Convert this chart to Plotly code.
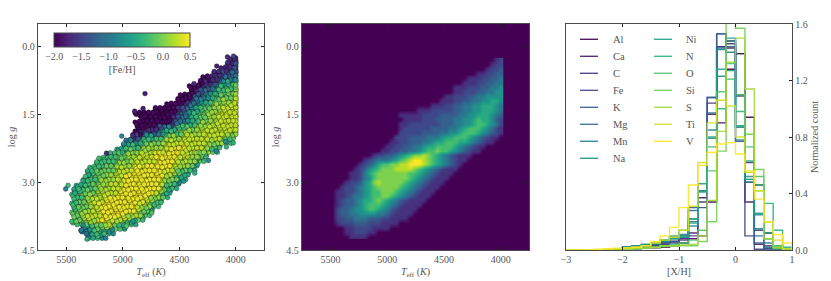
import plotly.graph_objects as go
from plotly.colors import sample_colorscale

FONT = "Liberation Serif"
INK = "#555555"
FRAME = "#4a4a4a"

# ---- left panel: Teff / log g raster, one letter per cell
logg_rows = [0.3,0.4,0.5,0.6,0.7,0.8,0.9,1.0,1.1,1.2,1.3,1.4,1.5,1.6,1.7,1.8,1.9,2.0,2.1,2.2,2.3,2.4,2.5,2.6,2.7,2.8,2.9,3.0,3.1,3.2,3.3,3.4,3.5,3.6,3.7,3.8,3.9,4.0,4.1,4.2]
teff_start = [4040,4080,4120,4200,4280,4320,4400,4400,4480,4520,4600,4720,4880,4840,4880,4880,4880,4920,4960,5000,5040,5120,5200,5240,5280,5320,5320,5360,5400,5440,5440,5440,5440,5440,5440,5440,5440,5360,5360,5320]
feh_rows = ["bb","bbc","bbcc","bbccdd","abbcddef","abbcdefgg","aabcdefgghh","abcdefgghhi","aabcdefgghhii","aabcdefghhiiij","aaabcdefghhiiijj","aaaaabcdefghhiijjjj",
"aaaaaaaabcdefghhiijjjjj","aaaaaaabcdefghhiijjjjj","aaaaaaabcdefgghiiijjjjj","aaabbcdefgghhiiijjjjjjj","abbcdefgghhiiijjjjjjjji","bcdefgghhiiijjjjjjjjiih",
"defgghhiiijjjjjjjjjiihg","efgghhiiijjjkkjjjjiihg","fgghhiiijjjkkkkjjjiihg","gghhiiijjjkkkkkkjjiihg","ggghhhiijjjjkkkkkjjiihg","gghhhiiijjjkkkkkkjjiihf",
"gghhhiijjjkkkkkkkjjihgf","fghhiiijjkkkkkkkkjjihgf","gghhiijjjkkkkkkkkjihgf","fghhiijjjkkkkkkkkjihge","fgghhiijjjkkkkkkkkjhgf","fgghhiijjjkkkkkkkkjihf",
"gghhiijjjkkkkkkkkjihf","ghhijjjkkkkkkkkkjihg","ghhijjkkkkkkkkkjihg","ghhijjkkkkkkkkjihf","hhijjjkkkkkkjjihg","hhijjjkkkkjjiihg","ghhiijjjjiihgf","efghhiihgf","defggfe","efge"]
feh_levels = dict(a=-1.95,b=-1.7,c=-1.4,d=-1.1,e=-0.8,f=-0.5,g=-0.3,h=-0.1,i=0.1,j=0.25,k=0.42)
# sub-cell positions used for each raster cell: (Teff offset, log g offset)
cell_teff_offsets = [0,-17,11,-9]
cell_logg_offsets = [0.0,0.04,-0.03,-0.05]
outlier_teff = [4803,5009,5144,5484,5505,4370,4168,4074,4020,4242,4174,4083,4022,4090,4363,4460,4661,4743,4909,4967,5150,5316,5366,4894,4820]
outlier_logg = [1.04,1.98,2.36,3.07,3.15,0.82,0.43,0.23,0.21,2.52,2.31,2.22,2.13,2.10,2.80,2.98,3.45,3.68,3.86,3.97,4.24,4.26,4.06,1.43,1.37]
outlier_feh = [-1.8,-0.9,-1.7,-0.3,-0.9,-1.7,-1.8,-1.7,-1.5,-0.8,-0.9,-0.4,-0.4,-0.8,-0.4,-0.7,-0.3,-0.2,-0.7,-0.2,-0.9,-0.4,-1.0,-1.8,-1.8]

# ---- middle panel: density digits on the same rows
density_rows = ["12","122","1223","112233","11122334","111223344","11122233445","11222334455","1122233445555","11122334455665","1112233445566654","1112222233445566654",
"11111222233334455666543","1111222333344556766532","11222222233344556776542","12222223333445677765421","22222333344556777654321","22233334445667776543211",
"11223334456677766543211","1122334456677776543211","1122334456778776543211","1223345678898765432111","12344456789aa9876543211","12346778899aaa987654321",
"12356788899998765432111","11246788888887765432111","1124578888888765432111","1223568988888765432111","1223456788888765432111","1122345677888765432111",
"112344567788765432111","12334566787654321111","1233456777654321111","233455677654321111","23344555544321111","2233444333221111","12223332221111","1122221111","1122211","1111"]
density_levels = {"1":.14,"2":.22,"3":.3,"4":.4,"5":.5,"6":.6,"7":.7,"8":.8,"9":.9,"a":1.0}

# ---- right panel: normalized histograms, 24 bins from -3 to 1
elements = ["Al","Ca","C","Fe","K","Mg","Mn","Na","Ni","N","O","Si","S","Ti","V"]
hist = {
"Al":[0,0,0,0,0,.002,.005,.008,.012,.015,.02,.03,.05,.08,.10,.34,.90,1.28,1.39,.94,.46,.12,.01,0],
"Ca":[0,0,0,0,.002,.004,.01,.015,.02,.03,.04,.06,.08,.12,.37,.96,1.44,1.43,1.39,.34,.04,.01,0,0],
"C":[0,0,0,0,.002,.005,.01,.015,.02,.03,.05,.06,.07,.10,.34,1.04,1.44,1.46,1.10,.62,.14,.03,0,0],
"Fe":[0,0,0,0,.003,.01,.02,.02,.025,.03,.04,.05,.05,.22,.30,1.08,1.53,1.48,1.09,.10,.005,0,0,0],
"K":[0,0,0,0,.002,.008,.015,.02,.03,.04,.05,.06,.09,.30,.47,1.08,1.53,1.44,.77,.48,.05,.01,0,0],
"Mg":[0,0,0,0,.003,.01,.02,.025,.03,.04,.06,.08,.10,.28,.42,.97,1.43,1.48,.87,.48,.10,.02,0,0],
"Mn":[0,0,0,0,.002,.01,.02,.03,.04,.05,.06,.09,.11,.20,.42,.85,1.42,1.40,.78,.50,.15,.05,.01,0],
"Na":[0,0,0,0,.002,.008,.02,.03,.04,.05,.07,.09,.10,.17,.42,.79,1.23,1.50,.87,.52,.25,.08,.02,0],
"Ni":[0,0,0,0,.002,.006,.015,.02,.035,.05,.07,.08,.09,.19,.41,.80,1.28,1.27,.88,.50,.26,.12,.03,.01],
"N":[0,0,0,0,.002,.005,.01,.02,.03,.05,.07,.10,.14,.22,.47,.73,1.00,1.21,.98,.63,.46,.33,.14,.02],
"O":[0,0,0,0,0,.002,.005,.01,.015,.02,.03,.04,.05,.07,.14,.56,1.12,1.32,1.10,.73,.52,.20,.03,.01],
"Si":[0,0,0,0,0,.002,.004,.008,.012,.018,.025,.03,.03,.03,.06,.20,.70,1.62,1.57,.82,.57,.08,.01,0],
"S":[0,0,0,0,0,.002,.005,.01,.015,.02,.03,.03,.035,.04,.10,.35,.84,1.33,1.50,1.14,.42,.08,.02,0],
"Ti":[0,0,.001,.002,.004,.01,.015,.02,.03,.05,.07,.09,.14,.31,.62,.90,1.06,1.02,.80,.55,.42,.20,.07,.01],
"V":[0,0,.002,.005,.01,.012,.015,.02,.03,.06,.10,.16,.30,.46,.60,.69,.75,.76,.68,.56,.36,.20,.11,.05],
}
bin_edges = [-3+i/6 for i in range(25)]

teff_ticks = [5500,5000,4500,4000]
logg_ticks = [0.0,1.5,3.0,4.5]
count_ticks = [0.0,0.4,0.8,1.2,1.6]
xh_ticks = [-3,-2,-1,0,1]

W, H = 831, 281
TEFF_STEP = 40

def dx(a,b): return [a/W, b/W]
def dy(a,b): return [1-b/H, 1-a/H]

fig = go.Figure()

cells = []
for pass_i,(dt,dg) in enumerate(zip(cell_teff_offsets, cell_logg_offsets)):
    for i,(g,t0,row) in enumerate(zip(logg_rows, teff_start, feh_rows)):
        shift = 20 if (i+pass_i) % 2 else 0
        for j,ch in enumerate(row):
            order = (i*7 + j*11 + pass_i*3) % 9
            cells.append((order, max(t0 - j*TEFF_STEP - shift + dt, 4000), g + dg, feh_levels[ch]))
cells.sort(key=lambda c: c[0])
sx = [c[1] for c in cells] + outlier_teff
sy = [c[2] for c in cells] + outlier_logg
sv = [c[3] for c in cells] + outlier_feh
fig.add_trace(go.Scatter(x=sx, y=sy, mode="markers", xaxis="x", yaxis="y", showlegend=False,
    marker=dict(size=4.8, color=sv, colorscale="Viridis", cmin=-2, cmax=0.5,
        line=dict(color="rgba(0,0,0,0.65)", width=0.45),
        colorbar=dict(orientation="h", lenmode="pixels", len=136, thicknessmode="pixels", thickness=14,
            x=122.2/W, xanchor="center", y=1-32.7/H, yanchor="top", ypad=0, xpad=0,
            tickvals=[-2,-1.5,-1,-.5,0,.5], ticktext=["−2.0","−1.5","−1.0","−0.5","0.0","0.5"],
            ticks="", outlinecolor=FRAME, outlinewidth=1,
            tickfont=dict(family=FONT,size=10,color=INK),
            title=dict(text="[Fe/H]", side="bottom", font=dict(family=FONT,size=10,color=INK))))))

grid_teff = [5560 - k*TEFF_STEP for k in range(40)]
grid_z = []
for t0,row in zip(teff_start, density_rows):
    line = [0.0]*len(grid_teff)
    k0 = round((5560-t0)/TEFF_STEP)
    for j,ch in enumerate(row):
        if k0+j < len(line):
            line[k0+j] = density_levels[ch]
    grid_z.append(line)
fig.add_trace(go.Heatmap(x=grid_teff, y=logg_rows, z=grid_z, xaxis="x2", yaxis="y2", zsmooth="best",
    colorscale="Viridis", zmin=0, zmax=1, showscale=False, hoverinfo="skip"))

colors = sample_colorscale("Viridis", [i/14 for i in range(15)])
for name,c in zip(elements, colors):
    x = [bin_edges[0]] + bin_edges
    y = [0] + hist[name] + [0]
    fig.add_trace(go.Scatter(x=x, y=y, mode="lines", xaxis="x3", yaxis="y3", showlegend=False,
        line=dict(color=c, width=1.4, shape="hv"), opacity=0.9))

common = dict(showline=True, linecolor=FRAME, linewidth=1.3, showgrid=False, zeroline=False,
              tickfont=dict(family=FONT,size=10,color=INK), ticks="inside", ticklen=3, tickcolor="#222222", tickwidth=1)
tfont = dict(family=FONT,size=10,color=INK)

def teff_axis(dom, anchor):
    return dict(common, domain=dom, anchor=anchor, range=[5750,3750], mirror="ticks", tickvals=teff_ticks,
        title=dict(text="<i>T</i><sub>eff</sub> (<i>K</i>)", font=tfont, standoff=3))
def logg_axis(dom, anchor):
    return dict(common, domain=dom, anchor=anchor, range=[4.5,-0.5], mirror="ticks", tickvals=logg_ticks,
        ticktext=["0.0","1.5","3.0","4.5"],
        title=dict(text="log <i>g</i>", font=tfont, standoff=4))

annotations, shapes = [], []
shapes.append(dict(type="rect", xref="x2 domain", yref="y2 domain", x0=0, x1=1, y0=0, y1=1,
                   fillcolor="#440154", line=dict(width=0), layer="below"))
for i,(name,c) in enumerate(zip(elements, colors)):
    col, row = (0,i) if i < 8 else (1,i-8)
    x0 = [580,654][col]; xt = [610.5,684][col]; yy = 39.3 + 17*row
    shapes.append(dict(type="line", xref="paper", yref="paper", x0=x0/W, x1=(x0+18)/W, y0=1-yy/H, y1=1-yy/H,
                       line=dict(color=c,width=1.4), opacity=0.9))
    annotations.append(dict(text=name, xref="paper", yref="paper", x=xt/W, y=1-yy/H, xanchor="left", yanchor="middle",
                            showarrow=False, font=dict(family=FONT,size=10.5,color=INK)))

fig.update_layout(width=W, height=H, margin=dict(l=0,r=0,t=0,b=0,autoexpand=False), paper_bgcolor="white", plot_bgcolor="white",
    xaxis=teff_axis(dx(38,264),"y"), yaxis=logg_axis(dy(24,250),"x"),
    xaxis2=teff_axis(dx(302,529),"y2"), yaxis2=logg_axis(dy(24,250),"x2"),
    xaxis3=dict(common, domain=dx(566,792), anchor="y3", range=[-3,1], tickvals=xh_ticks,
        ticktext=["−3","−2","−1","0","1"], mirror="ticks", title=dict(text="[X/H]", font=tfont, standoff=3)),
    yaxis3=dict(common, domain=dy(24,250), anchor="x3", range=[0,1.6], side="right", mirror=True, tickvals=count_ticks,
        ticktext=["0.0","0.4","0.8","1.2","1.6"], title=dict(text="Normalized count", font=tfont, standoff=4)),
    annotations=annotations, shapes=shapes)
fig.write_html("out.html", config=dict(displayModeBar=False),
               post_script="document.body.style.margin='0';")
